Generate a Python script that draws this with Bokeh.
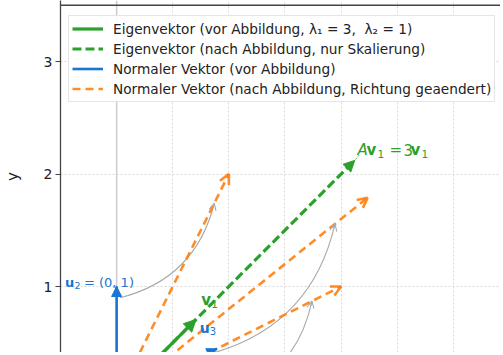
import math
from bokeh.plotting import figure
from bokeh.models import (ColumnDataSource, Arrow, NormalHead, OpenHead, Span, Range1d,
                          SingleIntervalTicker, FixedTicker, Legend, LegendItem)
from bokeh.core.properties import value
from bokeh.embed import file_html
from bokeh.resources import INLINE

# ---------------- data ----------------
eig_before_x = [0.707]
eig_before_y = [0.707]
eig_after_x = [2.121]
eig_after_y = [2.121]
normal_before_x = [1.0, 0.0, 0.894]
normal_before_y = [0.0, 1.0, 0.447]
normal_after_x = [2.0, 1.0, 2.236]
normal_after_y = [1.0, 2.0, 1.789]
y_ticks = [1, 2, 3]
legend_labels = [
    "Eigenvektor (vor Abbildung, λ₁ = 3,  λ₂ = 1)",
    "Eigenvektor (nach Abbildung, nur Skalierung)",
    "Normaler Vektor (vor Abbildung)",
    "Normaler Vektor (nach Abbildung, Richtung geaendert)",
]

GREEN = "#2ca02c"
BLUE = "#1976d2"
ORANGE = "#ff7f0e"
GRAY = "#aaaaaa"
FONT = "DejaVu Sans"

W, H, LEFT = 500, 352, 59
PX = 112.5
x0_ = -0.5
x1_ = x0_ + (W - LEFT) / PX
y1_ = 3 + 61 / PX
y0_ = y1_ - H / PX

p = figure(width=W, height=H, output_backend="svg", toolbar_location=None,
           x_range=Range1d(x0_, x1_), y_range=Range1d(y0_, y1_),
           x_axis_location=None, min_border_left=LEFT, min_border_right=0,
           min_border_top=0, min_border_bottom=0)
p.outline_line_color = None
p.background_fill_color = "white"

# axis
p.yaxis.ticker = FixedTicker(ticks=y_ticks)
p.yaxis.minor_tick_line_color = None
p.yaxis.major_tick_out = 5
p.yaxis.major_tick_in = 0
p.yaxis.axis_line_color = "#444444"
p.yaxis.axis_line_width = 1.3
p.yaxis.major_tick_line_color = "#444444"
p.yaxis.major_tick_line_width = 1.2
p.yaxis.major_label_text_font = FONT
p.yaxis.major_label_text_font_size = "14px"
p.yaxis.major_label_text_color = "#222222"
p.yaxis.major_label_standoff = 3
p.yaxis.axis_label = "y"
p.yaxis.axis_label_text_font = FONT
p.yaxis.axis_label_text_font_style = "normal"
p.yaxis.axis_label_text_font_size = "15px"
p.yaxis.axis_label_text_color = "#222222"
p.yaxis.axis_label_standoff = 19

# grids
p.xgrid.ticker = SingleIntervalTicker(interval=0.5)
p.ygrid.ticker = FixedTicker(ticks=y_ticks)
for g in (p.xgrid, p.ygrid):
    g.grid_line_color = "#d9d9d9"
    g.grid_line_dash = "2 2"
    g.grid_line_width = 1

p.add_layout(Span(location=0, dimension="height", line_color="#cccccc", line_width=1.5,
                  level="underlay"))
p.add_layout(Span(location=3.5, dimension="width", line_color="#444444", line_width=1.3))

# gray curved connections u -> A u (arc3, rad = 0.3)
qx0, qy0, qx1, qy1, qcx, qcy = [], [], [], [], [], []
hx0, hy0, hx1, hy1 = [], [], [], []
for ux, uy, ax, ay in zip(normal_before_x, normal_before_y, normal_after_x, normal_after_y):
    sx, sy = 0.9 * ux + 0.03, 0.9 * uy
    ex, ey = 0.87 * ax, 0.87 * ay
    mx, my = (sx + ex) / 2, (sy + ey) / 2
    dx, dy = ex - sx, ey - sy
    cx, cy = mx + 0.3 * dy, my - 0.3 * dx
    qx0.append(sx); qy0.append(sy); qx1.append(ex); qy1.append(ey); qcx.append(cx); qcy.append(cy)
    tx, ty = ex - cx, ey - cy
    tl = math.hypot(tx, ty)
    hx0.append(ex - 0.04 * tx / tl); hy0.append(ey - 0.04 * ty / tl)
    hx1.append(ex); hy1.append(ey)
p.quadratic(x0=qx0, y0=qy0, x1=qx1, y1=qy1, cx=qcx, cy=qcy, line_color=GRAY, line_width=1.1)
p.add_layout(Arrow(source=ColumnDataSource(dict(x0=hx0, y0=hy0, x1=hx1, y1=hy1)),
                   x_start="x0", y_start="y0", x_end="x1", y_end="y1",
                   line_color=GRAY, line_width=1.1,
                   end=OpenHead(size=7, line_color=GRAY, line_width=1.1)))

zeros3 = [0.0] * len(normal_before_x)

# orange dashed (after mapping)
src_na = ColumnDataSource(dict(x0=zeros3, y0=zeros3, x1=normal_after_x, y1=normal_after_y))
r_na = p.segment(x0="x0", y0="y0", x1="x1", y1="y1", source=src_na, line_color=ORANGE,
                 line_alpha=0.9, line_width=2.6, line_dash="8 5")
p.add_layout(Arrow(source=src_na, x_start="x0", y_start="y0", x_end="x1", y_end="y1",
                   line_alpha=0, end=OpenHead(size=10, line_color=ORANGE, line_alpha=0.9, line_width=2.6)))

# green dashed (eigenvector after)
src_ea = ColumnDataSource(dict(x0=[0.0], y0=[0.0], x1=eig_after_x, y1=eig_after_y))
r_ea = p.segment(x0="x0", y0="y0", x1="x1", y1="y1", source=src_ea, line_color=GREEN,
                 line_width=3.2, line_dash="9 4")
p.add_layout(Arrow(source=src_ea, x_start="x0", y_start="y0", x_end="x1", y_end="y1",
                   line_alpha=0, end=NormalHead(size=11, line_color=GREEN, fill_color=GREEN)))

# blue solid (normal before)
src_nb = ColumnDataSource(dict(x0=zeros3, y0=zeros3, x1=normal_before_x, y1=normal_before_y))
r_nb = p.segment(x0="x0", y0="y0", x1="x1", y1="y1", source=src_nb, line_color=BLUE, line_width=2.6)
p.add_layout(Arrow(source=src_nb, x_start="x0", y_start="y0", x_end="x1", y_end="y1",
                   line_alpha=0, end=NormalHead(size=10, line_color=BLUE, fill_color=BLUE)))

# green solid (eigenvector before)
src_eb = ColumnDataSource(dict(x0=[0.0], y0=[0.0], x1=eig_before_x, y1=eig_before_y))
r_eb = p.segment(x0="x0", y0="y0", x1="x1", y1="y1", source=src_eb, line_color=GREEN, line_width=3.2)
p.add_layout(Arrow(source=src_eb, x_start="x0", y_start="y0", x_end="x1", y_end="y1",
                   line_alpha=0, end=NormalHead(size=12, line_color=GREEN, fill_color=GREEN)))

# labels
def txt(x, y, s, color, size, style="normal", dx=0, dy=0):
    p.text(x=[x], y=[y], text=[s], text_color=color, text_font=value(FONT),
           text_font_size=size, text_font_style=style, text_align="left",
           text_baseline="middle", x_offset=dx, y_offset=dy)

# u2 label
txt(-0.46, 1.04, "u", BLUE, "13px", "bold")
txt(-0.46, 1.04, "2", BLUE, "9.5px", "normal", dx=9.5, dy=3)
txt(-0.46, 1.04, "= (0, 1)", BLUE, "13px", "normal", dx=19)
# u3 label
txt(0.74, 0.63, "u", BLUE, "14px", "bold")
txt(0.74, 0.63, "3", BLUE, "10px", "normal", dx=10, dy=3)
# v1 label
txt(0.755, 0.88, "v", GREEN, "15px", "bold")
txt(0.755, 0.88, "1", GREEN, "10.5px", "normal", dx=10, dy=3.5)
# A v1 = 3 v1
lx, ly = 2.145, 2.213
p.segment(x0=[eig_after_x[0]], y0=[eig_after_y[0]], x1=[lx + 0.02], y1=[ly - 0.04],
          line_color=GREEN, line_width=1, line_dash="1 1")
txt(lx, ly, "A", GREEN, "15px", "italic")
txt(lx, ly, "v", GREEN, "15px", "bold", dx=9)
txt(lx, ly, "1", GREEN, "10.5px", "normal", dx=20, dy=3.5)
txt(lx, ly, "=", GREEN, "15px", "normal", dx=32)
txt(lx, ly, "3", GREEN, "15px", "normal", dx=46)
txt(lx, ly, "v", GREEN, "15px", "bold", dx=53)
txt(lx, ly, "1", GREEN, "10.5px", "normal", dx=64, dy=3.5)

legend = Legend(items=[LegendItem(label=legend_labels[0], renderers=[r_eb]),
                       LegendItem(label=legend_labels[1], renderers=[r_ea]),
                       LegendItem(label=legend_labels[2], renderers=[r_nb]),
                       LegendItem(label=legend_labels[3], renderers=[r_na])],
                location=(8, 250), orientation="vertical")
legend.label_text_font = FONT
legend.label_text_font_size = "13.7px"
legend.label_text_color = "#222222"
legend.glyph_width = 31
legend.glyph_height = 19
legend.label_height = 19
legend.label_standoff = 10
legend.spacing = 1
legend.padding = 3
legend.margin = 0
legend.border_line_color = "#cccccc"
legend.border_line_width = 1
legend.background_fill_alpha = 0.9
p.add_layout(legend, "center")

open("out.html", "w").write(file_html(p, INLINE))
